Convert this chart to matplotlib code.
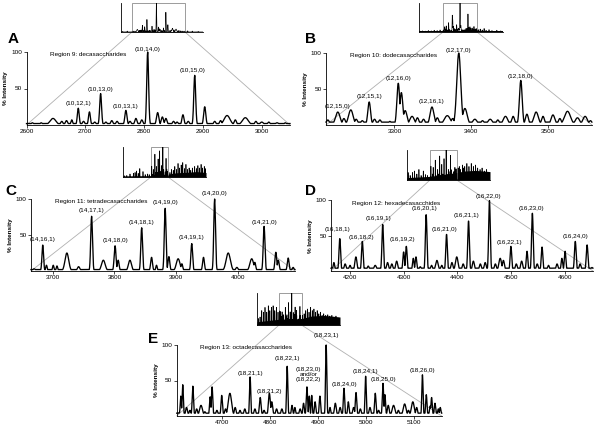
import numpy as np
import matplotlib
matplotlib.use("Agg")
import matplotlib.pyplot as plt
from matplotlib.patches import Rectangle, ConnectionPatch

plt.rcParams['font.family'] = ['Liberation Sans', 'DejaVu Sans']

# ---------------- data ----------------
# Panel A: Region 9 decasaccharides
A_mz  = [2610, 2625, 2645, 2660, 2668, 2677, 2688, 2697, 2707, 2716, 2726, 2735, 2745, 2754, 2769, 2776, 2786, 2796, 2806, 2823, 2831, 2837, 2850, 2856, 2866, 2875, 2886, 2903, 2920, 2930, 2941, 2955, 2972, 2990, 3000, 3012, 3026, 3040]
A_int = [3, 3, 9, 5, 6, 7, 23, 5, 18, 4, 43, 4, 6, 5, 20, 5, 9, 7, 100, 17, 11, 9, 5, 4, 14, 5, 68, 25, 5, 6, 13, 7, 10, 5, 4, 4, 3, 3]
A_wid = [2, 2, 5, 2, 2, 1.5, 1.6, 2, 1.6, 2, 1.6, 2, 2, 2, 1.8, 2, 2, 2, 1.6, 2, 2, 2, 2, 2, 1.8, 2, 1.6, 1.8, 2, 2, 5, 2, 5, 2, 3, 2, 3, 2]
A_lab = ["(10,12,1)", "(10,13,0)", "(10,13,1)", "(10,14,0)", "(10,15,0)"]
A_lab_mz = [2689, 2725, 2769, 2805, 2883]
A_lab_y = [29, 49, 26, 104, 74]
A_ticks = [2600, 2700, 2800, 2900, 3000]
A_title = "Region 9: decasaccharides"

# Panel B: Region 10 dodecasaccharides
B_mz  = [3213, 3226, 3234, 3243, 3250, 3258, 3267, 3274, 3281, 3294, 3305, 3309, 3314, 3323, 3330, 3338, 3349, 3356, 3369, 3376, 3384, 3392, 3405, 3415, 3425, 3435, 3445, 3455, 3465, 3473, 3485, 3494, 3507, 3516, 3526, 3539, 3549, 3556]
B_int = [7, 18, 9, 21, 8, 6, 32, 8, 7, 5, 58, 45, 20, 12, 10, 8, 25, 10, 13, 9, 100, 23, 8, 6, 8, 7, 12, 12, 62, 15, 18, 12, 14, 9, 19, 10, 12, 6]
B_wid = [2, 3, 2, 3, 2, 2, 1.8, 2, 2, 2, 1.8, 2, 2.5, 3, 2, 2, 2.5, 2, 4, 2, 2.6, 3, 3, 2, 3, 2, 3, 2, 1.8, 2, 3, 2, 2.5, 2, 4, 3, 3, 2]
B_lab = ["(12,15,0)", "(12,15,1)", "(12,16,0)", "(12,16,1)", "(12,17,0)", "(12,18,0)"]
B_lab_mz = [3226, 3267, 3305, 3349, 3384, 3464]
B_lab_y = [26, 40, 65, 33, 104, 67]
B_ticks = [3300, 3400, 3500]
B_title = "Region 10: dodecasaccharides"

# Panel C: Region 11 tetradecasaccharides
C_mz  = [3670, 3684, 3690, 3701, 3707, 3723, 3742, 3763, 3782, 3801, 3806, 3825, 3844, 3860, 3868, 3882, 3888, 3903, 3909, 3925, 3944, 3962, 3984, 3998, 4022, 4027, 4042, 4061, 4065, 4081, 4089]
C_int = [3, 36, 8, 8, 7, 25, 6, 76, 15, 35, 15, 15, 60, 19, 8, 87, 20, 17, 10, 38, 19, 100, 25, 5, 17, 12, 62, 26, 15, 18, 5]
C_wid = [2, 1.3, 1.2, 1.2, 1.2, 3, 2, 1.4, 3, 1.5, 1.5, 2.5, 1.4, 1.5, 1.2, 1.4, 1.5, 3, 1.5, 1.4, 1.5, 1.4, 3.5, 2, 3, 1.5, 1.4, 1.5, 1.5, 1.5, 1.5]
C_lab = ["(14,16,1)", "(14,17,1)", "(14,18,0)", "(14,18,1)", "(14,19,0)", "(14,19,1)", "(14,20,0)", "(14,21,0)"]
C_lab_mz = [3684, 3763, 3801, 3844, 3882, 3925, 3962, 4042]
C_lab_y = [44, 84, 42, 68, 95, 46, 108, 68]
C_ticks = [3700, 3800, 3900, 4000]
C_title = "Region 11: tetradecasaccharides"

# Panel D: Region 12 hexadecasaccharides
D_mz  = [4166, 4170, 4181, 4191, 4200, 4211, 4223, 4234, 4247, 4261, 4270, 4278, 4287, 4300, 4305, 4318, 4323, 4331, 4342, 4352, 4362, 4371, 4380, 4390, 4399, 4411, 4421, 4430, 4443, 4452, 4460, 4471, 4480, 4486, 4500, 4510, 4520, 4530, 4540, 4549, 4558, 4570, 4586, 4595, 4601, 4620, 4629, 4642, 4651]
D_int = [5, 12, 46, 10, 8, 20, 42, 7, 8, 66, 12, 10, 14, 27, 35, 18, 20, 6, 80, 8, 15, 8, 52, 12, 20, 10, 71, 14, 10, 12, 100, 10, 18, 15, 35, 10, 14, 28, 82, 10, 34, 8, 10, 18, 28, 42, 10, 37, 5]
D_wid = [2, 1.5, 1.5, 2, 2, 2, 1.5, 2, 2.5, 1.5, 2, 2, 2, 1.5, 1.5, 1.5, 1.5, 2, 1.5, 2, 2.5, 2, 1.5, 2, 2.5, 2, 1.5, 2, 2, 2, 1.5, 2, 2.5, 2, 1.5, 2, 2, 1.5, 1.5, 2, 1.5, 2, 2, 1.5, 1.5, 1.6, 2, 1.6, 2]
D_lab = ["(16,18,1)", "(16,18,2)", "(16,19,1)", "(16,19,2)", "(16,20,1)", "(16,21,0)", "(16,21,1)", "(16,22,0)", "(16,22,1)", "(16,23,0)", "(16,24,0)"]
D_lab_mz = [4177, 4222, 4253, 4298, 4338, 4377, 4418, 4458, 4497, 4539, 4620]
D_lab_y = [59, 48, 74, 44, 88, 59, 79, 105, 41, 89, 49]
D_ticks = [4200, 4300, 4400, 4500, 4600]
D_title = "Region 12: hexadecasacchides"

# Panel E: Region 13 octadecasaccharides
E_mz  = [4612, 4615, 4619, 4627, 4634, 4640, 4648, 4657, 4665, 4676, 4680, 4690, 4700, 4708, 4717, 4728, 4738, 4748, 4759, 4769, 4780, 4788, 4799, 4804, 4814, 4825, 4836, 4846, 4852, 4863, 4870, 4877, 4882, 4887, 4894, 4904, 4917, 4925, 4936, 4946, 4954, 4963, 4974, 4979, 4988, 4999, 5008, 5019, 5026, 5035, 5039, 5046, 5057, 5067, 5080, 5088, 5097, 5105, 5117, 5125, 5133, 5136, 5143, 5150, 5154]
E_int = [5, 28, 44, 12, 8, 42, 10, 15, 6, 27, 41, 8, 29, 10, 32, 12, 8, 10, 55, 10, 26, 8, 32, 20, 10, 10, 70, 15, 12, 10, 18, 41, 28, 29, 20, 28, 100, 12, 18, 12, 39, 20, 12, 33, 10, 56, 12, 32, 8, 46, 30, 15, 15, 8, 17, 8, 20, 12, 58, 30, 14, 26, 18, 10, 12]
E_wid = [1.5, 1.3, 1.3, 2, 2, 1.4, 2, 3, 2, 1.4, 1.4, 2, 1.5, 2, 3.5, 2, 2, 2, 1.3, 2, 1.8, 2, 2, 2, 2, 2, 1.3, 1.5, 1.5, 2, 1.5, 1.4, 1.2, 1.2, 1.5, 1.5, 1.3, 1.5, 2, 2, 1.4, 1.5, 2, 1.5, 2, 1.3, 2, 1.5, 2, 1.4, 1.4, 2, 3, 2, 3, 2, 3, 2, 1.3, 1.4, 1.5, 1.4, 1.5, 1.5, 1.5]
E_lab = ["(18,21,1)", "(18,21,2)", "(18,22,1)", "(18,23,0)\nand/or\n(18,22,2)", "(18,23,1)", "(18,24,0)", "(18,24,1)", "(18,25,0)", "(18,26,0)"]
E_lab_mz = [4759, 4799, 4836, 4880, 4917, 4954, 4999, 5035, 5117]
E_lab_y = [60, 35, 81, 58, 113, 45, 62, 52, 64]
E_ticks = [4700, 4800, 4900, 5000, 5100]
E_title = "Region 13: octadecasaccharides"

# Insets: extra peaks outside the zoomed window, plus a dense-noise envelope
IA_mz = [2520, 2560, 3070, 3110, 3160]
IA_int = [2, 3, 4, 3, 2]
IA_band_mz = [2507, 3200]
IA_band = [1, 1]

IB_mz = [2975, 3000, 3030, 3060, 3090, 3120, 3150, 3180, 3570, 3590, 3610, 3630, 3650, 3680, 3710, 3760, 3800]
IB_int = [3, 4, 3, 5, 4, 6, 5, 7, 8, 10, 7, 12, 6, 8, 5, 6, 4]
IB_band_mz = [2965, 3823]
IB_band = [2, 2]

IC_mz = [3000, 3060, 3140, 3225, 3267, 3305, 3346, 3385, 3465, 3520, 3580, 3620,
         4140, 4181, 4223, 4261, 4304, 4342, 4380, 4421, 4460, 4501, 4540, 4580, 4620, 4660,
         4700, 4759, 4800, 4839, 4877, 4919, 4957, 4999, 5037]
IC_int = [4, 5, 10, 12, 15, 20, 12, 28, 18, 8, 10, 8,
          15, 25, 22, 35, 25, 45, 30, 40, 48, 28, 42, 25, 30, 22,
          30, 35, 28, 38, 30, 42, 30, 35, 28]
IC_band_mz = [2965, 3665, 4092, 4300, 4600, 4800, 5042]
IC_band = [3, 4, 10, 14, 16, 18, 15]

ID_mz = [3764, 3802, 3844, 3882, 3924, 3962, 4002, 4042, 4082, 4120,
         4680, 4700, 4720, 4759, 4780, 4800, 4839, 4877, 4919, 4957, 4999, 5037, 5080, 5117, 5160, 5200, 5240]
ID_int = [25, 15, 25, 30, 20, 35, 15, 30, 18, 15,
          40, 45, 35, 50, 40, 45, 55, 45, 55, 45, 50, 40, 35, 40, 30, 35, 25]
ID_band_mz = [3744, 4165, 4653, 4800, 5000, 5262]
ID_band = [8, 12, 25, 30, 32, 28]

IE_mz = [4100, 4140, 4181, 4223, 4261, 4304, 4342, 4380, 4421, 4460, 4501, 4540, 4580,
         5180, 5220, 5260, 5300, 5340, 5380, 5420, 5460, 5500, 5540, 5580, 5620, 5660, 5700, 5750, 5800, 5850, 5900, 5950, 6000, 6050, 6090]
IE_int = [20, 25, 45, 40, 55, 40, 60, 45, 55, 60, 45, 55, 40,
          30, 35, 45, 50, 40, 55, 45, 50, 40, 45, 35, 40, 30, 35, 30, 32, 28, 30, 25, 28, 22, 20]
IE_band_mz = [4065, 4606, 5157, 5400, 5700, 6099]
IE_band = [10, 18, 20, 28, 30, 25]

# ---------------- drawing ----------------
W, H = 600, 429
fig = plt.figure(figsize=(W / 100, H / 100), dpi=100)
FS = 4.6


def px_axes(x0, x1, ytop, ybot):
    return fig.add_axes([x0 / W, 1 - ybot / H, (x1 - x0) / W, (ybot - ytop) / H])


def profile(grid, mz, inten, wid, base):
    y = np.full(grid.shape, float(base))
    for m, h, w in zip(mz, inten, wid):
        y = np.maximum(y, h * np.exp(-0.5 * ((grid - m) / w) ** 2))
    return y


panels = [
    ("A", (A_mz, A_int, A_wid, 2), (26.5, 290, 52, 125), (2600, 3048), A_ticks, A_lab, A_lab_mz, A_lab_y, A_title, 2640,
     (121, 203, 3, 32), (2507, 3200), (IA_mz, IA_int, IA_band_mz, IA_band), (13, 39)),
    ("B", (B_mz, B_int, B_wid, 4), (326, 592, 53, 125), (3210.6, 3558), B_ticks, B_lab, B_lab_mz, B_lab_y, B_title, 3242,
     (419, 503, 3, 32), (2965, 3823), (IB_mz, IB_int, IB_band_mz, IB_band), (310, 39)),
    ("C", (C_mz, C_int, C_wid, 2), (31, 295, 199, 271), (3665, 4092), C_ticks, C_lab, C_lab_mz, C_lab_y, C_title, 3704,
     (123, 206, 147, 177), (2965, 5042), (IC_mz, IC_int, IC_band_mz, IC_band), (11, 191)),
    ("D", (D_mz, D_int, D_wid, 4), (331, 593, 200.5, 271), (4164.6, 4653), D_ticks, D_lab, D_lab_mz, D_lab_y, D_title, 4203,
     (407, 490, 150, 180), (3744, 5262), (ID_mz, ID_int, ID_band_mz, ID_band), (310, 191)),
    ("E", (E_mz, E_int, E_wid, 4), (176.7, 441.7, 345, 416), (4606.5, 5157), E_ticks, E_lab, E_lab_mz, E_lab_y, E_title, 4654,
     (257, 340, 293, 325), (4065, 6099), (IE_mz, IE_int, IE_band_mz, IE_band), (153, 339)),
]

for (letter, (mz, inten, wid, base), box, xlim, ticks, labs, lab_mz, lab_y, title, title_mz,
     ibox, ixlim, (emz, eint, bmz, blev), lpos) in panels:
    ax = px_axes(*box)
    ax.patch.set_alpha(0)
    grid = np.arange(xlim[0], xlim[1] + 0.1, 0.25)
    ax.plot(grid, profile(grid, mz, inten, wid, base), color='black', lw=0.95, clip_on=False,
            solid_joinstyle='round')
    ax.set_xlim(*xlim)
    ax.set_ylim(0, 100)
    ax.set_xticks(ticks)
    ax.set_yticks([50, 100])
    for s in ('top', 'right'):
        ax.spines[s].set_visible(False)
    for s in ('left', 'bottom'):
        ax.spines[s].set_linewidth(0.6)
    ax.tick_params(labelsize=FS, length=2, width=0.5, pad=1.2)
    ax.set_ylabel("% Intensity", fontsize=FS, fontweight='bold', labelpad=2)
    for t, m, y in zip(labs, lab_mz, lab_y):
        ax.text(m, y, t, fontsize=FS, ha='center', va='center', linespacing=1.0, clip_on=False)
    ax.text(title_mz, 96, title, fontsize=FS, ha='left', va='center')
    fig.text(lpos[0] / W, 1 - lpos[1] / H, letter, fontsize=11, fontweight='bold', ha='center', va='center')

    # inset overview
    ia = px_axes(*ibox)
    ia.patch.set_alpha(0)
    ig = np.arange(ixlim[0], ixlim[1] + 0.1, 0.5)
    iy = np.maximum(profile(ig, mz, inten, wid, 0), profile(ig, emz, eint, [2] * len(emz), 0))
    ia.fill_between(bmz, 0, blev, color='black', lw=0)
    ia.plot(ig, iy, color='black', lw=0.5)
    ia.set_xlim(*ixlim)
    ia.set_ylim(0, 100)
    ia.set_xticks([])
    ia.set_yticks([])
    for s in ('top', 'right'):
        ia.spines[s].set_visible(False)
    for s in ('left', 'bottom'):
        ia.spines[s].set_linewidth(0.6)
    ia.add_patch(Rectangle((xlim[0], 0), xlim[1] - xlim[0], 100, fill=False, ec='#8c8c8c', lw=0.6, clip_on=False))
    for xa in (xlim[0], xlim[1]):
        con = ConnectionPatch(xyA=(xa, 0), coordsA=ia.transData, xyB=(xa, 0), coordsB=ax.transData,
                              color='#b0b0b0', lw=0.6, zorder=-1)
        fig.add_artist(con)

fig.savefig("out.png", dpi=100, facecolor='white')
